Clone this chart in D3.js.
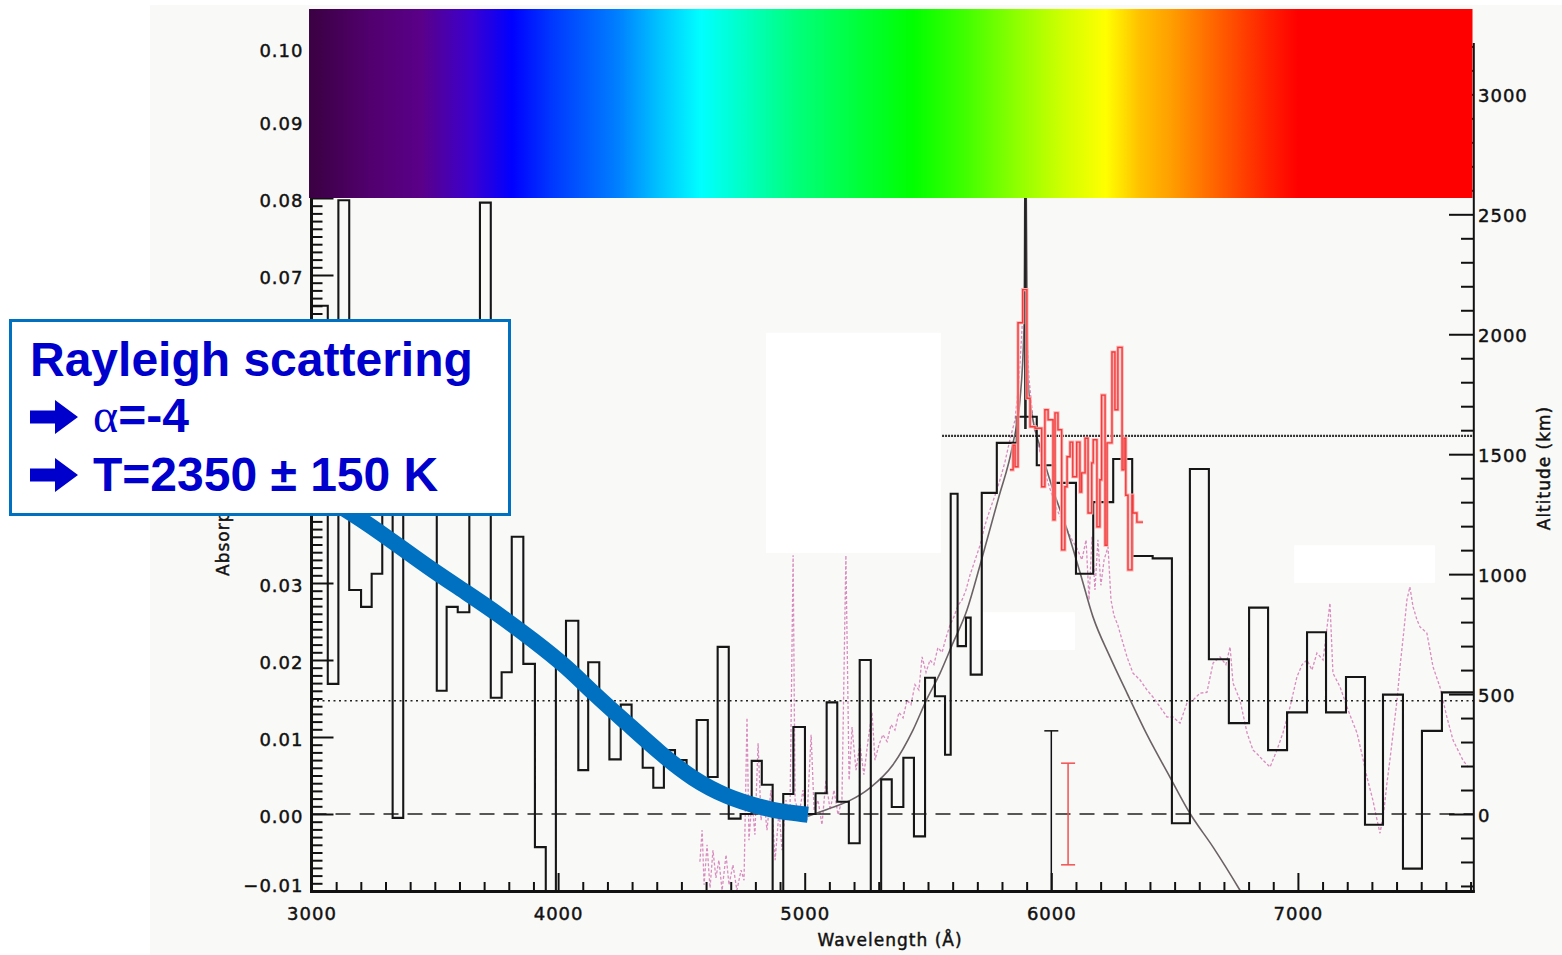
<!DOCTYPE html>
<html>
<head>
<meta charset="utf-8">
<script src="https://cdn.jsdelivr.net/npm/d3@7"></script>
<style>
  html, body { margin: 0; padding: 0; background: #ffffff; }
  svg { display: block; }
</style>
</head>
<body>
<svg id="chart" width="1562" height="955"></svg>
<script>
// ---- Binned transmission spectrum (black histogram): bin edges in Å, absorption per bin ----
const binEdges = [3000,3066,3109,3153,3201,3244,3287,3329,3372,3416,3462,3508,3548,3593,3640,3683,3727,3771,3812,3859,
  3906,3950,3991,4032,4082,4122,4167,4208,4254,4298,4343,4386,4429,4474,4521,4562,4607,4647,4692,4740,
  4785,4826,4870,4913,4954,5001,5044,5089,5132,5179,5223,5268,5310,5353,5400,5443,5488,5528,5569,5592,
  5620,5654,5673,5718,5779,5860,5941,6015,6100,6170,6251,6328,6411,6489,6562,6639,6720,6802,6879,6956,
  7037,7114,7195,7272,7345,7426,7503,7584,7710];
const binValues = [0.0660,0.0169,0.0797,0.0291,0.0269,0.0312,0.0473,-0.0005,0.0486,0.0538,
  0.0460,0.0160,0.0269,0.0262,0.0473,0.0794,0.0151,0.0184,0.0360,0.0195,
  -0.0043,-0.0118,0.0197,0.0251,0.0057,0.0197,0.0142,0.0071,0.0142,0.0103,
  0.0060,0.0034,0.0083,0.0070,0.0047,0.0122,0.0048,0.0217,-0.0006,0.0000,
  0.0069,0.0038,-0.0118,0.0026,0.0113,0.0000,0.0027,0.0145,0.0016,-0.0038,
  0.0200,-0.0118,0.0045,0.0009,0.0073,-0.0029,0.0177,0.0153,0.0077,0.0416,
  0.0218,0.0255,0.0181,0.0417,0.0482,0.0516,0.0453,0.0430,0.0312,0.0405,
  0.0461,0.0335,0.0332,-0.0012,0.0448,0.0201,0.0118,0.0268,0.0083,0.0132,
  0.0236,0.0132,0.0178,-0.0014,0.0155,-0.0071,0.0108,0.0158];

// ---- High-resolution spectrum around the Na doublet (red steps) ----
const naEdges = [5832,5845,5853,5865,5884,5901,5914,5934,5961,5974,5987,6007,6015,6027,6042,6055,6064,6076,6087,6103,
  6116,6123,6137,6149,6164,6170,6185,6197,6204,6218,6226,6246,6258,6270,6287,6295,6302,6311,6327,6331,6347,6372];
const naValues = [0.0447,0.0479,0.0451,0.0638,0.0681,0.0540,0.0503,0.0501,0.0425,0.0525,
  0.0512,0.0382,0.0521,0.0499,0.0343,0.0425,0.0464,0.0483,0.0438,0.0483,
  0.0418,0.0443,0.0488,0.0391,0.0456,0.0486,0.0373,0.0434,0.0544,0.0349,
  0.0482,0.0600,0.0525,0.0606,0.0447,0.0488,0.0414,0.0317,0.0414,0.0391,0.0379];

// ---- Smoothed high-resolution spectrum (pink dashed) ----
const hiresWave = [4575,4584,4592,4604,4616,4628,4640,4652,4665,4681,4693,4709,4725,4742,4754,4766,4774,4786,4798,4811,
  4823,4835,4847,4863,4880,4896,4908,4924,4940,4953,4961,4977,4993,5009,5026,5038,5054,5070,5086,5103,
  5119,5135,5151,5167,5180,5192,5208,5224,5240,5257,5273,5285,5301,5317,5334,5350,5366,5382,5399,5415,
  5431,5447,5463,5476,5492,5508,5524,5540,5557,5573,5589,5605,5622,5638,5654,5670,5691,5711,5731,5751,
  5772,5792,5812,5832,5853,5869,5881,5889,5897,5910,5926,5942,5962,5983,6003,6023,6043,6064,6084,6104,
  6124,6141,6153,6165,6177,6189,6201,6214,6230,6242,6254,6270,6287,6307,6331,6360,6388,6412,6441,6469,
  6493,6522,6550,6575,6603,6631,6656,6684,6708,6725,6737,6765,6794,6818,6838,6858,6887,6915,6939,6968,
  6996,7017,7037,7057,7077,7102,7130,7142,7171,7199,7219,7240,7260,7280,7304,7321,7333,7349,7361,7373,
  7386,7402,7414,7430,7442,7454,7467,7483,7495,7523,7548,7576,7604,7629,7649,7669,7690];
const hiresAbs = [-0.0062,-0.0021,-0.0092,-0.0040,-0.0096,-0.0047,-0.0083,-0.0060,-0.0099,-0.0053,
  -0.0092,-0.0066,-0.0099,-0.0073,-0.0086,0.0125,-0.0034,0.0018,-0.0027,0.0092,
  -0.0008,0.0018,-0.0021,0.0031,-0.0060,0.0005,-0.0047,0.0018,-0.0008,0.0336,
  0.0018,-0.0001,0.0031,-0.0008,0.0103,0.0005,0.0018,-0.0014,0.0044,0.0005,
  0.0031,-0.0001,0.0018,0.0336,0.0044,0.0113,0.0057,0.0090,0.0051,0.0096,
  0.0132,0.0070,0.0090,0.0103,0.0094,0.0116,0.0109,0.0132,0.0125,0.0148,
  0.0142,0.0168,0.0161,0.0204,0.0184,0.0200,0.0194,0.0216,0.0210,0.0229,
  0.0245,0.0256,0.0271,0.0278,0.0291,0.0310,0.0330,0.0349,0.0375,0.0395,
  0.0414,0.0434,0.0457,0.0486,0.0512,0.0564,0.0629,0.0681,0.0642,0.0564,
  0.0512,0.0486,0.0460,0.0434,0.0414,0.0395,0.0382,0.0369,0.0356,0.0345,
  0.0330,0.0356,0.0278,0.0360,0.0291,0.0356,0.0297,0.0330,0.0347,0.0278,
  0.0258,0.0245,0.0226,0.0204,0.0183,0.0174,0.0161,0.0152,0.0139,0.0126,
  0.0126,0.0118,0.0144,0.0148,0.0157,0.0158,0.0196,0.0204,0.0194,0.0217,
  0.0170,0.0148,0.0105,0.0083,0.0077,0.0070,0.0061,0.0083,0.0105,0.0139,
  0.0178,0.0194,0.0200,0.0187,0.0209,0.0200,0.0274,0.0183,0.0165,0.0139,
  0.0122,0.0105,0.0077,0.0048,0.0018,-0.0008,-0.0025,0.0005,0.0040,0.0070,
  0.0105,0.0148,0.0191,0.0239,0.0278,0.0295,0.0269,0.0252,0.0243,0.0235,
  0.0191,0.0165,0.0126,0.0096,0.0083,0.0070,0.0061];

// ---- Rayleigh scattering fit (thick blue) ----
const rayleighWave = [3075,3225,3359,3493,3631,3764,3898,4036,4142,4279,4413,4547,4685,4819,4900,5013];
const rayleighAbs  = [0.0408,0.0378,0.0347,0.0316,0.0287,0.0258,0.0226,0.0191,0.0157,0.0118,0.0079,0.0045,0.0022,0.0009,0.0003,-0.0001];

// ---- Na line model profile (thin grey) ----
const modelWave = [5013,5090,5180,5265,5358,5439,5492,5549,5597,5658,5711,5784,5845,5873,5889,5895,5905,5922,5954,6007,
  6064,6117,6169,6238,6307,6388,6481,6562,6656,6765,6800];
const modelAbs  = [-0.0003,0.0006,0.0017,0.0034,0.0064,0.0109,0.0147,0.0183,0.0219,0.0265,0.0323,0.0408,0.0482,0.0538,0.0629,0.0900,0.0564,0.0518,0.0477,0.0421,
  0.0369,0.0313,0.0256,0.0204,0.0157,0.0103,0.0048,0.0001,-0.0043,-0.0099,-0.0118];

// Na D core
const naCoreWave = 5895;
const naCoreRange = [0.050, 0.090];

// Reference levels
const zeroLevel = 0.0;
const lowLevel = 0.0147;
const highLevel = 0.0491;
const highLevelStart = 5557;

// Typical error bars (wavelength, half-height)
const errWave = [6000, 6068];
const errHalf = [0.0108, 0.0066];

// Blanked patches (wavelength range, absorption range)
const blankW0 = [4843, 5715, 6985];
const blankW1 = [5553, 6096, 7556];
const blankA0 = [0.0339, 0.0213, 0.0300];
const blankA1 = [0.0625, 0.0262, 0.0349];

// Axis ticks
const waveTicks = [3000, 4000, 5000, 6000, 7000];
const absTicks = [-0.01, 0.00, 0.01, 0.02, 0.03, 0.04, 0.05, 0.06, 0.07, 0.08, 0.09, 0.10];
const absLabelsUnderNote = [0.04, 0.05, 0.06];
const altTicks = [0, 500, 1000, 1500, 2000, 2500, 3000];

// Colour bar stops (wavelength, colour)
const barWave = [2990,3250,3450,3650,3813,3967,4243,4400,4580,4800,4950,5440,5650,5865,6050,6220,6360,6480,6725,6880,7000,7710];
const barColor = ["#3b0042","#520070","#5a008a","#3a00d0","#0000ff","#0035ff","#0080ff","#00bfff","#00ffff","#00ffb4","#00ff80",
  "#00ff00","#40ff00","#90ff00","#d0ff00","#ffff00","#ffc000","#ffa000","#ff5000","#ff2000","#ff0000","#ff0000"];

// ---------------------------------------------------------------------------
const svg = d3.select("#chart");
const x = d3.scaleLinear().domain([3000, 7710]).range([311.5, 1473]);
const y = d3.scaleLinear().domain([-0.01, 0.10]).range([891, 44]);
const kmPerUnit = 32100;                      // altitude (km) per unit absorption
const alt = d3.scaleLinear().domain([-0.01 * kmPerUnit, 0.10 * kmPerUnit]).range([891, 44]);

// figure background
svg.append("rect").attr("x", 150).attr("y", 5).attr("width", 1412).attr("height", 950).attr("fill", "#f9f9f7");

const defs = svg.append("defs");
defs.append("clipPath").attr("id", "plotClip")
  .append("rect").attr("x", 311.5).attr("y", 44).attr("width", 1473 - 311.5).attr("height", 891 - 44);

const grad = defs.append("linearGradient").attr("id", "spectrumGrad")
  .attr("gradientUnits", "userSpaceOnUse")
  .attr("x1", x(barWave[0])).attr("x2", x(barWave[barWave.length - 1])).attr("y1", 0).attr("y2", 0);
const g0 = x(barWave[0]), g1 = x(barWave[barWave.length - 1]);
barWave.forEach((w, i) => {
  grad.append("stop").attr("offset", (x(w) - g0) / (g1 - g0)).attr("stop-color", barColor[i]);
});

const plot = svg.append("g").attr("clip-path", "url(#plotClip)");
const line = d3.line().x(d => x(d[0])).y(d => y(d[1]));

// pink high-resolution spectrum
plot.append("path")
  .attr("d", line(d3.zip(hiresWave, hiresAbs)))
  .attr("fill", "none").attr("stroke", "#d98cbf").attr("stroke-width", 1.3)
  .attr("stroke-dasharray", "3,2");

// blanked patches
blankW0.forEach((w0, i) => {
  plot.append("rect")
    .attr("x", x(w0)).attr("width", x(blankW1[i]) - x(w0))
    .attr("y", y(blankA1[i])).attr("height", y(blankA0[i]) - y(blankA1[i]))
    .attr("fill", "#ffffff");
});

// reference levels
plot.append("line").attr("x1", x(3000)).attr("x2", x(7710)).attr("y1", y(zeroLevel)).attr("y2", y(zeroLevel))
  .attr("stroke", "#222").attr("stroke-width", 1.3).attr("stroke-dasharray", "15,9");
plot.append("line").attr("x1", x(3000)).attr("x2", x(7710)).attr("y1", y(lowLevel)).attr("y2", y(lowLevel))
  .attr("stroke", "#222").attr("stroke-width", 1.5).attr("stroke-dasharray", "2,3.5");
plot.append("line").attr("x1", x(highLevelStart)).attr("x2", x(7710)).attr("y1", y(highLevel)).attr("y2", y(highLevel))
  .attr("stroke", "#333").attr("stroke-width", 2.2).attr("stroke-dasharray", "2,1");

// grey model profile
plot.append("path")
  .attr("d", d3.line().x(d => x(d[0])).y(d => y(d[1])).curve(d3.curveMonotoneX)(d3.zip(modelWave, modelAbs)))
  .attr("fill", "none").attr("stroke", "#6b6266").attr("stroke-width", 1.6);

// Na D core
plot.append("line").attr("x1", x(naCoreWave)).attr("x2", x(naCoreWave))
  .attr("y1", y(naCoreRange[0])).attr("y2", y(naCoreRange[1]))
  .attr("stroke", "#222").attr("stroke-width", 2.6);

// black binned spectrum
const stepLine = d3.line().x(d => x(d[0])).y(d => y(d[1])).curve(d3.curveStepAfter);
const binPts = binEdges.map((e, i) => [e, binValues[Math.min(i, binValues.length - 1)]]);
plot.append("path").attr("d", stepLine(binPts))
  .attr("fill", "none").attr("stroke", "#161616").attr("stroke-width", 2.1);

// red Na spectrum
const naPts = naEdges.map((e, i) => [e, naValues[Math.min(i, naValues.length - 1)]]);
plot.append("path").attr("d", stepLine(naPts))
  .attr("fill", "none").attr("stroke", "#ffb0b0").attr("stroke-width", 3.2);
plot.append("path").attr("d", stepLine(naPts))
  .attr("fill", "none").attr("stroke", "#f03c3c").attr("stroke-width", 1.4);

// error bars
const errColor = ["#111", "#f25050"];
errWave.forEach((w, i) => {
  const gx = x(w);
  plot.append("line").attr("x1", gx).attr("x2", gx).attr("y1", y(-errHalf[i])).attr("y2", y(errHalf[i]))
    .attr("stroke", errColor[i]).attr("stroke-width", 1.5);
  [-1, 1].forEach(s => {
    plot.append("line").attr("x1", gx - 7).attr("x2", gx + 7)
      .attr("y1", y(s * errHalf[i])).attr("y2", y(s * errHalf[i]))
      .attr("stroke", errColor[i]).attr("stroke-width", 1.5);
  });
});

// Rayleigh fit
svg.append("path")
  .attr("d", d3.line().x(d => x(d[0])).y(d => y(d[1])).curve(d3.curveBasis)(d3.zip(rayleighWave, rayleighAbs)))
  .attr("fill", "none").attr("stroke", "#0070c0").attr("stroke-width", 16).attr("stroke-linecap", "butt");

// ---- axes ----
const tickFont = "DejaVu Sans, Verdana, sans-serif";
function styleAxis(g) {
  g.attr("font-family", tickFont).attr("font-size", 18);
  g.selectAll("text").attr("fill", "#111").attr("stroke", "#111").attr("stroke-width", 0.45)
    .attr("letter-spacing", "1px");
  g.selectAll("line").attr("stroke", "#111").attr("stroke-width", 2);
  g.select(".domain").remove();
}
const absMinor = d3.range(-10, 101).map(v => v / 1000).filter(v => Math.round(v * 1000) % 10 !== 0);
const waveMinor = d3.range(3000, 7710, 100).filter(v => v % 1000 !== 0);
const altMinor = d3.range(-300, 3201, 100).filter(v => v % 500 !== 0);
const absFmt = d3.format(".2f");

// left
svg.append("g").attr("transform", "translate(311.5,0)")
  .call(d3.axisLeft(y).tickValues(absMinor).tickSize(-11).tickFormat(""))
  .call(styleAxis);
svg.append("g").attr("transform", "translate(311.5,0)")
  .call(d3.axisLeft(y).tickValues(absTicks).tickSize(-22).tickPadding(8)
    .tickFormat(d => absLabelsUnderNote.includes(d) ? "" : absFmt(d)))
  .call(styleAxis)
  .call(g => g.selectAll("text").attr("dy", d => d === 0.10 ? "0.7em" : (d === -0.01 ? "0.05em" : "0.45em")));

// bottom
svg.append("g").attr("transform", "translate(0,891)")
  .call(d3.axisBottom(x).tickValues(waveMinor).tickSize(-9).tickFormat(""))
  .call(styleAxis);
svg.append("g").attr("transform", "translate(0,891)")
  .call(d3.axisBottom(x).tickValues(waveTicks).tickSize(-18).tickPadding(16).tickFormat(d3.format("d")))
  .call(styleAxis);

// right (altitude)
svg.append("g").attr("transform", "translate(1473,0)")
  .call(d3.axisRight(alt).tickValues(altMinor).tickSize(-12).tickFormat(""))
  .call(styleAxis);
svg.append("g").attr("transform", "translate(1473,0)")
  .call(d3.axisRight(alt).tickValues(altTicks).tickSize(-24).tickPadding(5).tickFormat(d3.format("d")))
  .call(styleAxis)
  .call(g => g.selectAll("text").attr("dy", "0.4em"));

// spectrum colour bar
svg.append("rect").attr("x", x(2990)).attr("y", 9)
  .attr("width", 1472.5 - x(2990)).attr("height", y(0.08) - 9)
  .attr("fill", "url(#spectrumGrad)");

// axis frame lines
svg.append("line").attr("x1", 311.5).attr("x2", 311.5).attr("y1", y(0.08)).attr("y2", 892.5)
  .attr("stroke", "#111").attr("stroke-width", 3);
svg.append("line").attr("x1", 1473.8).attr("x2", 1473.8).attr("y1", 43).attr("y2", 892.5)
  .attr("stroke", "#111").attr("stroke-width", 2);
svg.append("line").attr("x1", 310).attr("x2", 1474.8).attr("y1", 891.5).attr("y2", 891.5)
  .attr("stroke", "#111").attr("stroke-width", 3);

// axis titles
function titleText(sel) {
  sel.attr("font-family", tickFont).attr("font-size", 17).attr("letter-spacing", "1px")
    .attr("fill", "#111").attr("stroke", "#111").attr("stroke-width", 0.45);
}
svg.append("text").attr("x", 890).attr("y", 946).attr("text-anchor", "middle")
  .call(titleText).text("Wavelength (Å)");
svg.append("text").attr("transform", "translate(229,576) rotate(-90)").attr("text-anchor", "start")
  .call(titleText).text("Absorption");
svg.append("text").attr("transform", "translate(1550,468) rotate(-90)").attr("text-anchor", "middle")
  .call(titleText).text("Altitude (km)");

// ---- annotation box ----
const note = svg.append("g");
note.append("rect").attr("x", 10.5).attr("y", 320.5).attr("width", 499).attr("height", 194)
  .attr("fill", "#ffffff").attr("stroke", "#0070c0").attr("stroke-width", 3);
const noteFont = "Liberation Sans, Arial, Helvetica, sans-serif";
const noteColor = "#0000cc";
note.append("text").attr("x", 30).attr("y", 376)
  .attr("font-family", noteFont).attr("font-weight", "bold").attr("font-size", 48)
  .attr("fill", noteColor).text("Rayleigh scattering");
const arrowPath = "M0,-6.5 H25 V-17 L48,0 L25,17 V6.5 H0 Z";
[417, 475].forEach(cy => {
  note.append("path").attr("d", arrowPath).attr("transform", `translate(30,${cy})`).attr("fill", noteColor);
});
const l2 = note.append("text").attr("x", 93).attr("y", 432)
  .attr("font-family", noteFont).attr("font-weight", "bold").attr("font-size", 48).attr("fill", noteColor);
l2.append("tspan").attr("font-family", "Liberation Serif, Times New Roman, serif").attr("font-weight", "normal").text("α");
l2.append("tspan").text("=-4");
note.append("text").attr("x", 93).attr("y", 491)
  .attr("font-family", noteFont).attr("font-weight", "bold").attr("font-size", 48)
  .attr("fill", noteColor).text("T=2350 ± 150 K");
</script>
</body>
</html>
